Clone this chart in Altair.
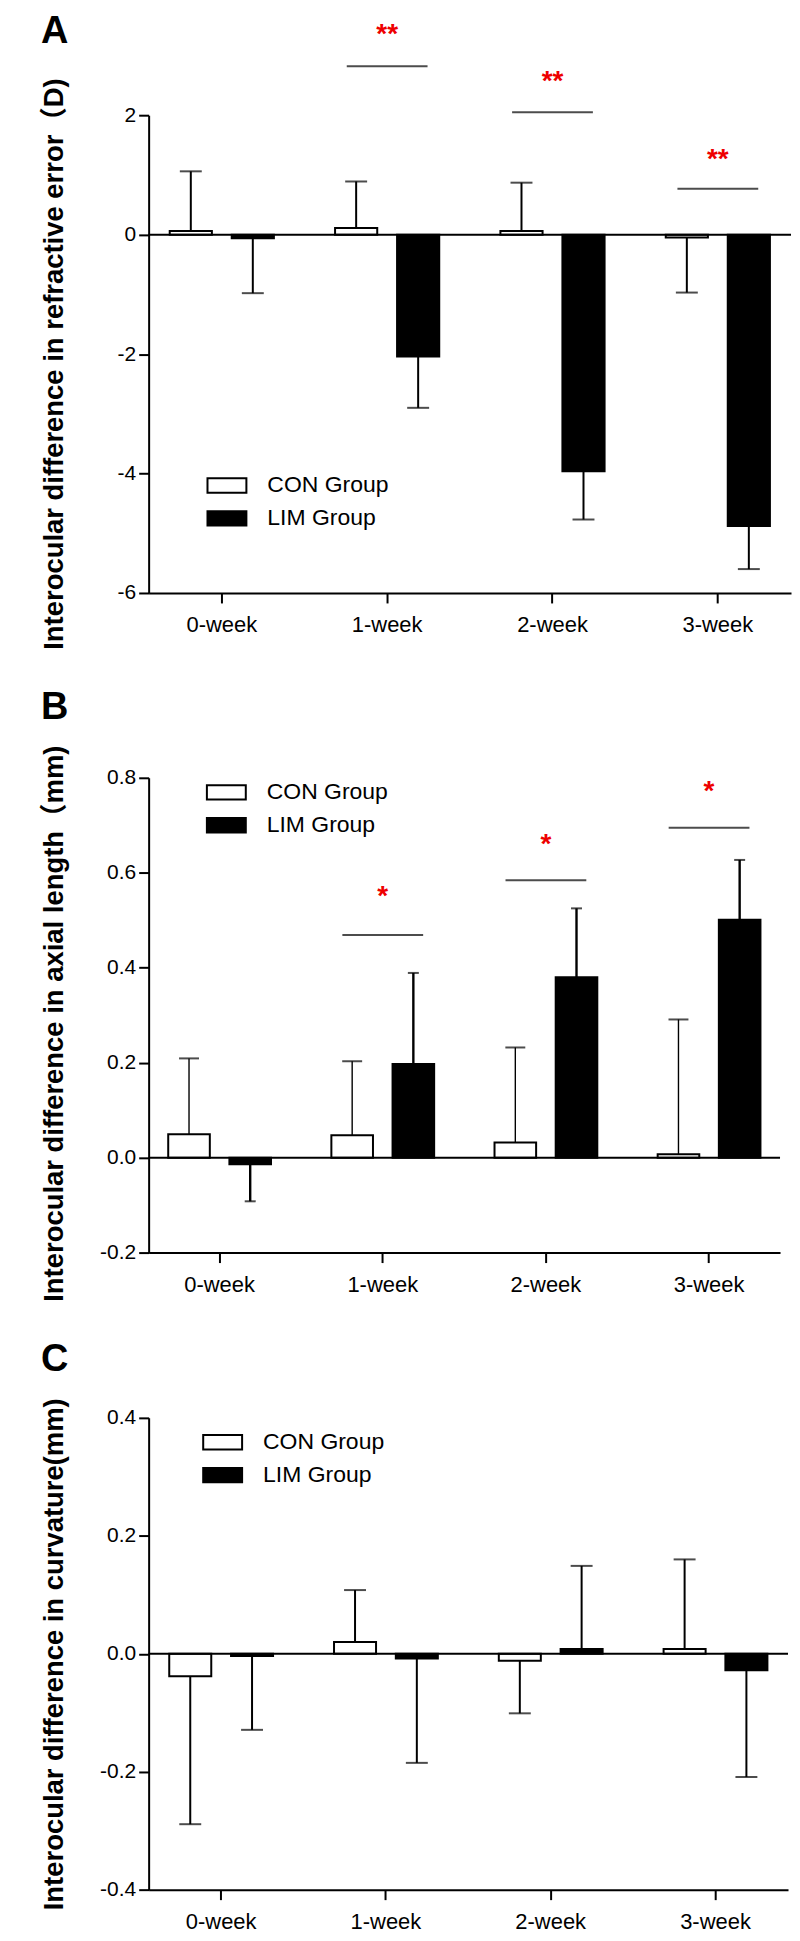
import altair as alt
import pandas as pd

# ---------------- data ----------------
weeks = ["0-week", "1-week", "2-week", "3-week"]
groups = ["CON Group", "LIM Group"]

# Panel A: refractive error (D)  -- mean and end of one-sided SD bar
a_con_mean = [0.06, 0.11, 0.06, -0.05]
a_con_end = [1.06, 0.89, 0.87, -0.97]
a_lim_mean = [-0.06, -2.04, -3.96, -4.88]
a_lim_end = [-0.98, -2.90, -4.77, -5.60]
a_sig_weeks = ["1-week", "2-week", "3-week"]
a_sig_line = [2.82, 2.05, 0.77]
a_sig_star = [3.46, 2.67, 1.36]
a_sig_text = ["**", "**", "**"]

# Panel B: axial length (mm)
b_con_mean = [0.049, 0.047, 0.032, 0.007]
b_con_end = [0.209, 0.203, 0.232, 0.291]
b_lim_mean = [-0.014, 0.197, 0.380, 0.501]
b_lim_end = [-0.092, 0.389, 0.525, 0.627]
b_sig_weeks = ["1-week", "2-week", "3-week"]
b_sig_line = [0.469, 0.584, 0.695]
b_sig_star = [0.564, 0.673, 0.784]
b_sig_text = ["*", "*", "*"]

# Panel C: curvature (mm)
c_con_mean = [-0.038, 0.020, -0.012, 0.008]
c_con_end = [-0.289, 0.108, -0.101, 0.160]
c_lim_mean = [-0.004, -0.008, 0.008, -0.028]
c_lim_end = [-0.129, -0.185, 0.149, -0.209]

FONT = "Liberation Sans, Arial, Noto Sans CJK SC, sans-serif"
RECT = "M-1,-0.37L1,-0.37L1,0.37L-1,0.37Z"


def bar_df(con_mean, con_end, lim_mean, lim_end):
    rows = []
    for i, w in enumerate(weeks):
        rows.append({"week": w, "group": groups[0], "mean": con_mean[i], "end": con_end[i]})
        rows.append({"week": w, "group": groups[1], "mean": lim_mean[i], "end": lim_end[i]})
    return pd.DataFrame(rows)


def panel(label, df, sig, domain, ticks, fmt, width, height, pad_outer,
          ytitle, title_pad, title_y, title_offset, leg_x, leg_y, leg_rowpad,
          err_widths, cap_sizes):
    x = alt.X("week:N", sort=weeks,
              scale=alt.Scale(paddingInner=0.37, paddingOuter=pad_outer),
              axis=alt.Axis(title=None, labelAngle=0, domainWidth=2, domainColor="black",
                            tickWidth=2, tickColor="black", tickSize=10, labelPadding=11.6,
                            labelFontSize=22, labelFont=FONT, labelColor="black", grid=False))
    xo = alt.XOffset("group:N", sort=groups,
                     scale=alt.Scale(paddingInner=0.32, paddingOuter=0))
    yscale = alt.Scale(domain=domain, nice=False, zero=False)
    label_expr = ("datum.value < 0 ? '-' + format(-datum.value, '%s') : format(datum.value, '%s')"
                  % (fmt, fmt))
    yaxis = alt.Axis(title=ytitle, values=ticks, labelExpr=label_expr,
                     domainWidth=2, domainColor="black", tickWidth=2, tickColor="black",
                     tickSize=10, labelPadding=3, labelFontSize=21, labelFont=FONT,
                     labelColor="black", titleFont=FONT, titleFontSize=27.5,
                     titleFontWeight="bold", titleColor="black", titlePadding=title_pad,
                     titleY=title_y, grid=False)

    def Y(field):
        return alt.Y(field, scale=yscale, axis=yaxis)

    base = alt.Chart(df)
    bars = base.mark_bar(stroke="black", strokeWidth=2).encode(
        x=x, xOffset=xo, y=Y("mean:Q"),
        fill=alt.Fill("group:N", sort=groups,
                      scale=alt.Scale(domain=groups, range=["white", "black"]),
                      legend=alt.Legend(title=None, orient="none", legendX=leg_x, legendY=leg_y,
                                        direction="vertical", symbolType=RECT, symbolSize=1521,
                                        symbolStrokeColor="black", symbolStrokeWidth=2,
                                        symbolOpacity=1,
                                        labelFontSize=23, labelFont=FONT, labelColor="black",
                                        labelOffset=20, rowPadding=leg_rowpad, padding=0)),
    )
    layers = [bars]
    # one-sided error bars and caps, one layer per group
    for gi, g in enumerate(groups):
        sub = base.transform_filter(alt.datum.group == g)
        layers.append(sub.mark_rule(color="black", strokeWidth=err_widths[gi]).encode(
            x=x, xOffset=xo, y=Y("mean:Q"), y2="end:Q"))
        layers.append(sub.mark_tick(orient="horizontal", thickness=2, color="black",
                                    size=cap_sizes[gi]).encode(
            x=x, xOffset=xo, y=Y("end:Q")))
    zero = alt.Chart(pd.DataFrame({"z": [0.0]})).mark_rule(color="black", strokeWidth=2).encode(
        y=Y("z:Q"))
    layers.append(zero)
    if sig is not None:
        sdf = pd.DataFrame({"week": sig[0], "line": sig[1], "star": sig[2], "txt": sig[3]})
        sbase = alt.Chart(sdf)
        lines = sbase.mark_tick(orient="horizontal", size=81, thickness=2, color="black").encode(
            x=x, y=Y("line:Q"))
        stars = sbase.mark_text(color="#ee0000", fontSize=28, fontWeight="bold", font=FONT,
                                baseline="middle", dy=7).encode(
            x=x, y=Y("star:Q"), text="txt:N")
        layers += [lines, stars]
    return alt.layer(*layers).properties(
        width=width, height=height,
        title=alt.TitleParams(label, anchor="start", frame="bounds", fontSize=38,
                              fontWeight="bold", font=FONT, color="black",
                              offset=title_offset, baseline="alphabetic"),
    )


pA = panel("A", bar_df(a_con_mean, a_con_end, a_lim_mean, a_lim_end),
           (a_sig_weeks, a_sig_line, a_sig_star, a_sig_text),
           [-6, 2], [-6, -4, -2, 0, 2], "d", 644, 479, 0.1275,
           "Interocular difference in refractive error（D)", 48.3, 249, -60,
           58, 350.7, 0, [2, 2], [22, 22])

pB = panel("B", bar_df(b_con_mean, b_con_end, b_lim_mean, b_lim_end),
           (b_sig_weeks, b_sig_line, b_sig_star, b_sig_text),
           [-0.2, 0.8], [-0.2, 0.0, 0.2, 0.4, 0.6, 0.8], ".1f", 633, 476, 0.12,
           "Interocular difference in axial length（mm)", 30.8, 246, -12,
           57.4, -5.9, 0, [1.4, 2.4], [20, 11])

pC = panel("C", bar_df(c_con_mean, c_con_end, c_lim_mean, c_lim_end), None,
           [-0.4, 0.4], [-0.4, -0.2, 0.0, 0.2, 0.4], ".1f", 641, 473, 0.125,
           "Interocular difference in curvature(mm)", 30.8, 236.5, -11,
           53.7, 3.9, -1, [2, 2], [22, 22])

top_pair = alt.vconcat(pA, pB, spacing=39.3).resolve_scale(
    fill="independent", x="independent", y="independent", xOffset="independent"
).resolve_legend(fill="independent")

chart = alt.vconcat(top_pair, pC, spacing=38).resolve_scale(
    fill="independent", x="independent", y="independent", xOffset="independent"
).resolve_legend(fill="independent").properties(
    padding={"left": 33, "top": 2, "right": 0, "bottom": 4},
    background="white",
).configure_view(stroke=None)

chart.save("out.html", embed_options={"renderer": "svg", "actions": False})
